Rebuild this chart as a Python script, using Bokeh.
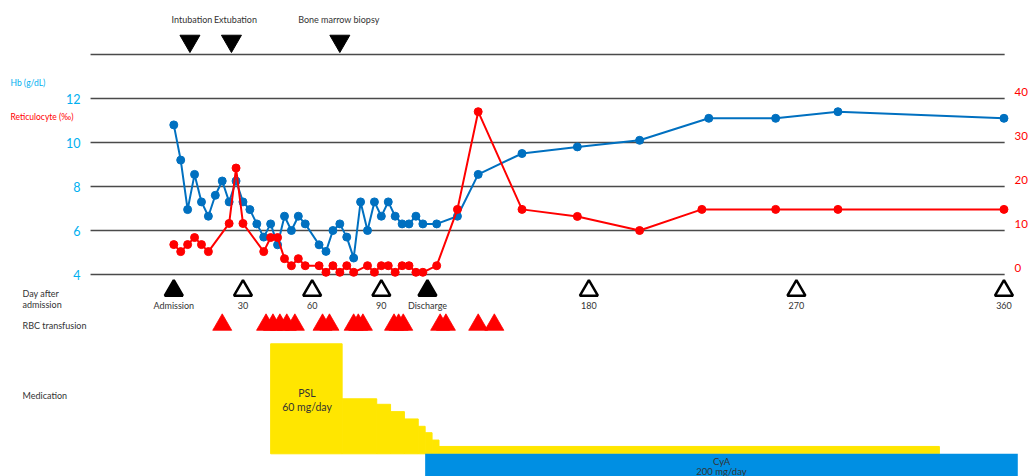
from bokeh.plotting import figure
from bokeh.models import Range1d
from bokeh.core.properties import value
from bokeh.embed import file_html
from bokeh.resources import INLINE

# ---------------- data ----------------
hb_days = [0, 3, 6, 9, 12, 15, 18, 21, 24, 27, 30, 33, 36, 39, 42, 45, 48, 51, 54, 57,
           63, 66, 69, 72, 75, 78, 81, 84, 87, 90, 93, 96, 99, 102, 105, 108,
           114, 123, 132, 151, 175, 202, 232, 261, 288, 360]
hb_values = [10.8, 9.2, 6.95, 8.55, 7.3, 6.65, 7.6, 8.25, 7.3, 8.25, 7.3, 6.95, 6.3, 5.7, 6.3, 5.35, 6.65, 6.0, 6.65, 6.3,
             5.35, 5.05, 6.0, 6.3, 5.7, 4.75, 7.3, 6.0, 7.3, 6.65, 7.3, 6.65, 6.3, 6.3, 6.65, 6.3,
             6.3, 6.65, 8.55, 9.5, 9.8, 10.1, 11.1, 11.1, 11.4, 11.1]

ret_days = [0, 3, 6, 9, 12, 15, 24, 27, 30, 39, 42, 45, 48, 51, 54, 57,
            63, 66, 69, 72, 75, 78, 84, 87, 90, 93, 96, 99, 102, 105, 108,
            114, 123, 132, 151, 175, 202, 229, 261, 288, 360]
ret_values = [6.8, 5.2, 6.8, 8.4, 6.8, 5.2, 11.6, 24.2, 11.6, 5.2, 8.4, 8.4, 3.6, 2.0, 3.6, 2.0,
              2.0, 0.5, 2.0, 0.5, 2.0, 0.5, 2.0, 0.5, 2.0, 2.0, 0.5, 2.0, 2.0, 0.5, 0.5,
              2.0, 14.8, 37.0, 14.8, 13.2, 10.0, 14.8, 14.8, 14.8, 14.8]

hb_ticks = [4, 6, 8, 10, 12]
ret_ticks = [0, 10, 20, 30, 40]
grid_levels = [4, 6, 8, 10, 12, 14]

event_days = [7, 25, 72]
event_labels = ["Intubation", "Extubation", "Bone marrow biopsy"]

milestone_days = [0, 30, 60, 90, 110, 180, 270, 360]
milestone_labels = ["Admission", "30", "60", "90", "Discharge", "180", "270", "360"]
milestone_filled = [True, False, False, False, True, False, False, False]

transfusion_days = [21, 40, 43, 46, 49, 52.5, 64.5, 67.5, 78, 80, 82,
                    95.5, 97.5, 99.5, 115.5, 118, 132, 139]

psl_start = [42, 73, 88, 94, 100, 106, 109, 112, 115]
psl_end = [73, 88, 94, 100, 106, 109, 112, 115, 332]
psl_dose = [60, 30, 27, 23, 19, 15, 11.5, 7.5, 4]

cya_start = [109]
cya_end = [366]

# ---------------- styles ----------------
FONT = value("Lato")
TXT = "#333333"
HB_COL = "#0070C0"
HB_LABEL = "#00B0F0"
RET_COL = "#FF0000"
YELLOW = "#FFE600"
CYA_COL = "#008FE3"

W, H = 1029, 476
# x: day -> pixel  X = 173.3 + 2.306*day
X0, KX = 173.3, 2.306
# Hb: Y = 274 - 22*(hb-4) ; reticulocyte: Y = 274 - 4.4*r ; dose: Y = 453.3 - 1.8333*d
p = figure(width=W, height=H,
           x_range=Range1d(-X0 / KX, (W - X0) / KX),
           y_range=Range1d(4 - (H - 274) / 22, 4 + 274 / 22),
           x_axis_location=None, y_axis_location=None,
           toolbar_location=None, output_backend="svg",
           min_border=0, outline_line_color=None)
p.xgrid.visible = False
p.ygrid.visible = False
p.extra_x_ranges = {"page": Range1d(0, W)}
p.extra_y_ranges = {
    "retic": Range1d(-(H - 274) / 4.4, 274 / 4.4),
    "dose": Range1d((453.3 - H) / 1.8333, 453.3 / 1.8333),
    "page": Range1d(H, 0),
}

# grid lines
p.segment(x0=[-36.1] * len(grid_levels), x1=[360.3] * len(grid_levels),
          y0=grid_levels, y1=grid_levels, line_color="#4a4a4a", line_width=1.5)

# axis labels (left, Hb)
p.text(x=[80] * len(hb_ticks), y=hb_ticks, text=[str(t) for t in hb_ticks],
       x_range_name="page", text_align="right", text_baseline="middle",
       text_font=FONT, text_font_size="12.5px", text_color=HB_LABEL)
# axis labels (right, reticulocyte)
p.text(x=[1014] * len(ret_ticks), y=ret_ticks, text=[str(t) for t in ret_ticks],
       x_range_name="page", y_range_name="retic", y_offset=-7,
       text_align="left", text_baseline="middle",
       text_font=FONT, text_font_size="11.5px", text_color=RET_COL)

p.text(x=[10], y=[82], text=["Hb (g/dL)"], x_range_name="page", y_range_name="page",
       text_align="left", text_baseline="middle", text_font=FONT,
       text_font_size="8.5px", text_color=HB_LABEL)
p.text(x=[10], y=[116], text=["Reticulocyte (‰)"], x_range_name="page", y_range_name="page",
       text_align="left", text_baseline="middle", text_font=FONT,
       text_font_size="8.5px", text_color=RET_COL)

# Hb series
p.line(hb_days, hb_values, line_color=HB_COL, line_width=2)
p.scatter(hb_days, hb_values, size=8, fill_color=HB_COL, line_color=HB_COL)
# Reticulocyte series
p.line(ret_days, ret_values, line_color=RET_COL, line_width=2, y_range_name="retic")
p.scatter(ret_days, ret_values, size=8, fill_color=RET_COL, line_color=RET_COL,
          y_range_name="retic")

# events
p.scatter(x=event_days, y=[40.5] * len(event_days), y_range_name="page",
          marker="inverted_triangle", size=20, fill_color="black", line_color="black")
p.text(x=event_days, y=[18.5] * len(event_days), text=event_labels,
       x_offset=[2, 4, -1], y_range_name="page", text_align="center",
       text_baseline="middle", text_font=FONT, text_font_size="9px", text_color=TXT)

# milestones
p.scatter(x=milestone_days, y=[290] * len(milestone_days), y_range_name="page",
          marker="triangle", size=18, line_width=2.5, line_color="black",
          fill_color=["black" if f else "white" for f in milestone_filled])
p.text(x=milestone_days, y=[304.5] * len(milestone_days), text=milestone_labels,
       y_range_name="page", text_align="center", text_baseline="middle",
       text_font=FONT, text_font_size="9px", text_color=TXT)

# row labels
p.text(x=[22, 22, 22, 22], y=[292.5, 303.5, 324.5, 395],
       text=["Day after", "admission", "RBC transfusion", "Medication"],
       x_range_name="page", y_range_name="page", text_align="left",
       text_baseline="middle", text_font=FONT, text_font_size="9px", text_color=TXT)

# transfusions
p.scatter(x=transfusion_days, y=[324.3] * len(transfusion_days), y_range_name="page",
          marker="triangle", size=19, fill_color=RET_COL, line_color=RET_COL, line_width=0.8)

# medication
p.quad(left=psl_start, right=psl_end, bottom=[0] * len(psl_dose), top=psl_dose,
       y_range_name="dose", fill_color=YELLOW, line_color=YELLOW, line_width=1)
p.quad(left=cya_start, right=cya_end, bottom=[-40], top=[0],
       y_range_name="dose", fill_color=CYA_COL, line_color=None)

p.text(x=[306.5, 306.5], y=[392.3, 406.5], text=["PSL", "60 mg/day"],
       x_range_name="page", y_range_name="page", text_align="center",
       text_baseline="middle", text_font=FONT, text_font_size="10.5px", text_color=TXT)
p.text(x=[721, 721], y=[461, 470.5], text=["CyA", "200 mg/day"],
       x_range_name="page", y_range_name="page", text_align="center",
       text_baseline="middle", text_font=FONT, text_font_size="9.5px", text_color=TXT)

open("out.html", "w").write(file_html(p, INLINE))
